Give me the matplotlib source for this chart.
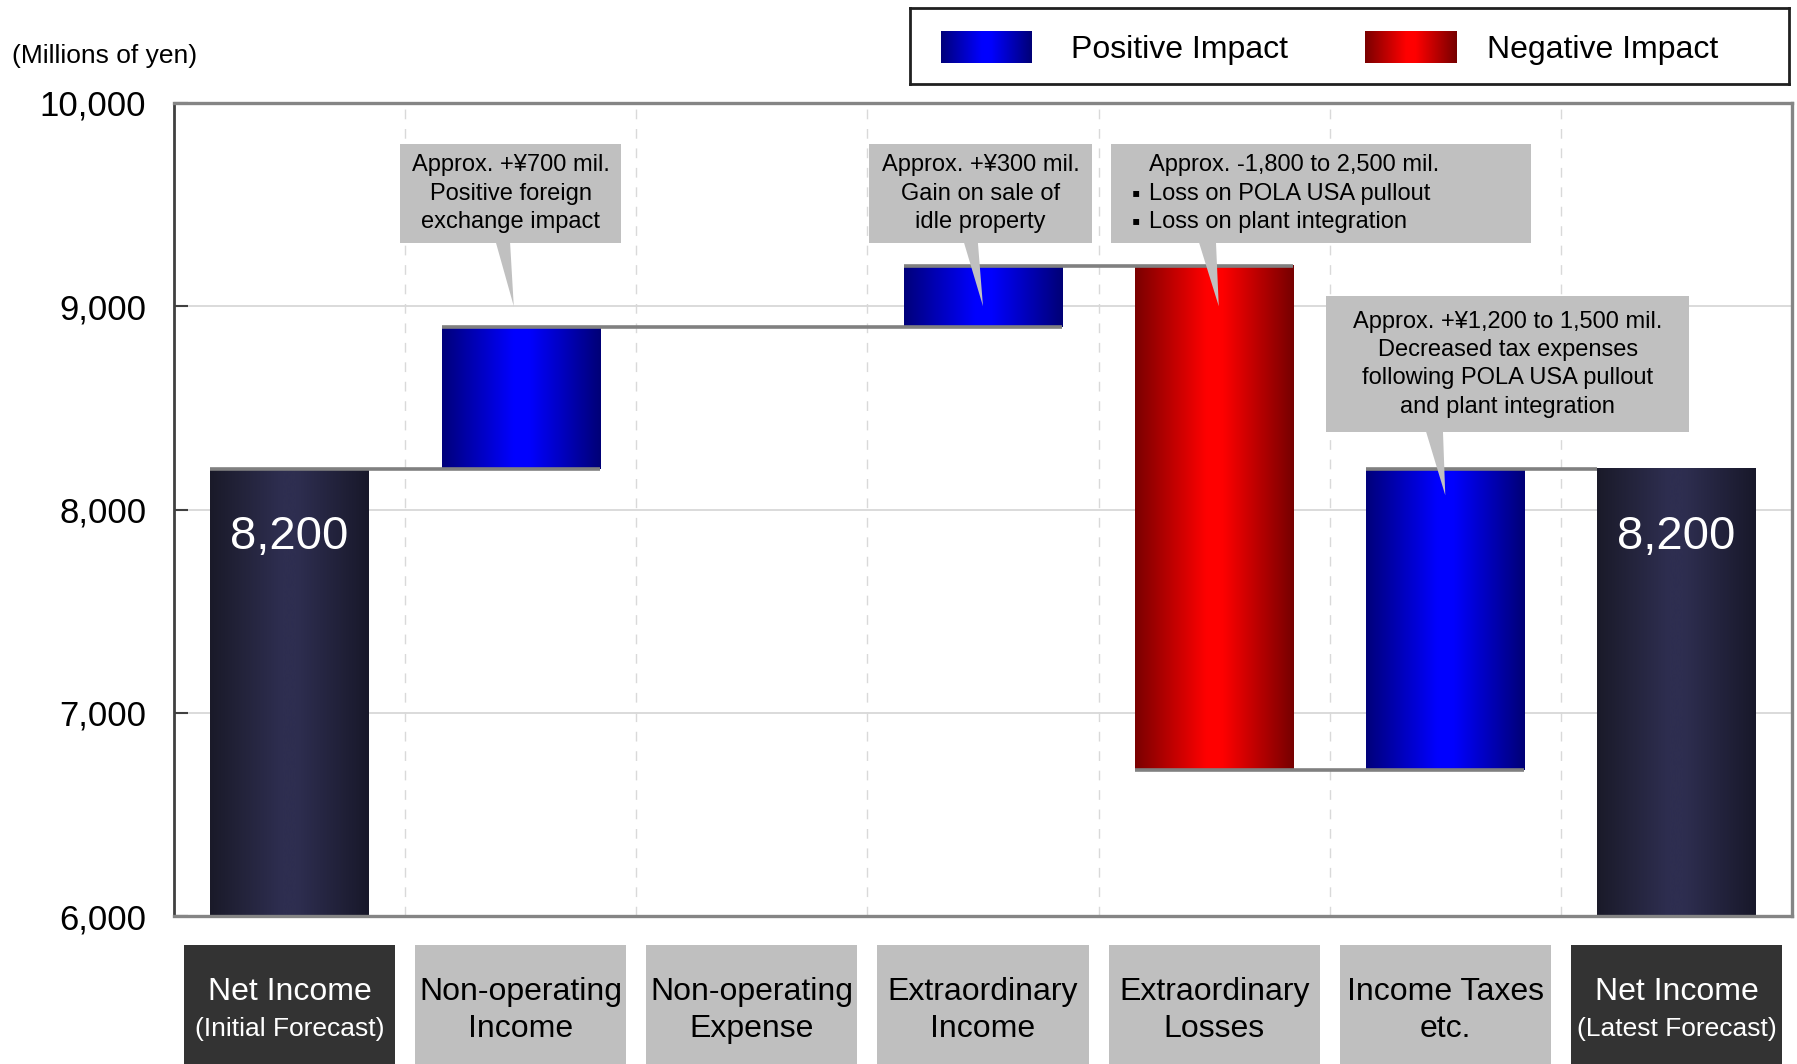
import numpy as np
import matplotlib
matplotlib.use("Agg")
import matplotlib.pyplot as plt
from matplotlib.colors import LinearSegmentedColormap
from matplotlib.patches import Rectangle, Polygon
from matplotlib.transforms import blended_transform_factory

plt.rcParams['font.family'] = ['Liberation Sans', 'DejaVu Sans']

# net income forecast bridge, millions of yen
cat_line1 = ["Net Income", "Non-operating", "Non-operating", "Extraordinary",
             "Extraordinary", "Income Taxes", "Net Income"]
cat_line2 = ["(Initial Forecast)", "Income", "Expense", "Income",
             "Losses", "etc.", "(Latest Forecast)"]
kinds = ["total", "step", "step", "step", "step", "step", "total"]
values = [8200, 700, 0, 300, -2480, 1480, 8200]

y_ticks = [6000, 7000, 8000, 9000, 10000]
y_tick_labels = ["6,000", "7,000", "8,000", "9,000", "10,000"]

callout_texts = [
    "Approx. +¥700 mil.\nPositive foreign\nexchange impact",
    "Approx. +¥300 mil.\nGain on sale of\nidle property",
    "Approx. -1,800 to 2,500 mil.\nLoss on POLA USA pullout\nLoss on plant integration",
    "Approx. +¥1,200 to 1,500 mil.\nDecreased tax expenses\nfollowing POLA USA pullout\nand plant integration",
]

# callout layout: box (x0, x1, y0, y1), pointer base (x0, x1), tip (x, y), bulleted
callout_layout = [
    dict(box=(0.478, 1.434, 9311, 9798), base=(0.893, 0.954), tip=(0.97, 9000), bullets=False),
    dict(box=(2.507, 3.472, 9311, 9798), base=(2.918, 2.978), tip=(3.0, 9000), bullets=False),
    dict(box=(3.554, 5.371, 9311, 9798), base=(3.935, 4.008), tip=(4.02, 9000), bullets=True),
    dict(box=(4.484, 6.055, 8381, 9050), base=(4.917, 4.990), tip=(5.0, 8070), bullets=False),
]

W, H = 1797, 1064
BAR_W = 0.685
CALLOUT_GRAY = "#c0c0c0"
CALLOUT_LS = 1.37


def shade(edge_l, mid, edge_r, name):
    return LinearSegmentedColormap.from_list(
        name, [(0.0, edge_l), (0.45, mid), (0.55, mid), (1.0, edge_r)])


cmap_pos = shade("#00007a", "#0000ff", "#000076", "pos")
cmap_neg = shade("#7a0000", "#ff0000", "#760000", "neg")
cmap_tot = shade("#1a1a29", "#2e2e50", "#18182a", "tot")
grad = np.linspace(0, 1, 256).reshape(1, -1)


def gradient_rect(a, x0, x1, y0, y1, cmap, z):
    a.imshow(grad, cmap=cmap, extent=[x0, x1, y0, y1], aspect="auto",
             interpolation="bicubic", zorder=z)


fig = plt.figure(figsize=(W / 100, H / 100), dpi=100)
ax = fig.add_axes([174 / W, 1 - 916 / H, 1618 / W, 813 / H])

# grid
for y in y_ticks[1:-1]:
    ax.axhline(y, color="#d4d4d4", lw=1.2, zorder=0)
for x in np.arange(0.5, len(values) - 1, 1.0):
    ax.axvline(x, color="#d9d9d9", lw=1.0, ls=(0, (7, 7)), zorder=0)

# bars (totals only need painting down to the bottom of the value axis)
y_floor = y_ticks[0]
running = 0
spans = []
for i, (v, k) in enumerate(zip(values, kinds)):
    if k == "total":
        lo, hi = y_floor, v
        running = v
        cmap = cmap_tot
    else:
        start = running
        running = start + v
        lo, hi = min(start, running), max(start, running)
        cmap = cmap_pos if v >= 0 else cmap_neg
    spans.append((lo, hi, running - v if k == "step" else v))
    if hi > lo:
        gradient_rect(ax, i - BAR_W / 2, i + BAR_W / 2, lo, hi, cmap, 2)
    if k == "total":
        ax.annotate(f"{v:,}", xy=(i, v), xytext=(0, -49), textcoords="offset points",
                    ha="center", va="center", color="white", fontsize=34, zorder=6)

# connector lines
prev = 0
for i in range(1, len(values)):
    if kinds[i] == "step" and values[i] == 0:
        continue
    level = spans[i][2] if kinds[i] == "step" else values[i]
    x_to = i + BAR_W / 2 if kinds[i] == "step" else i - BAR_W / 2
    ax.plot([prev - BAR_W / 2, x_to], [level, level], color="#808080", lw=2.6,
            solid_capstyle="butt", zorder=4)
    prev = i

# callouts
for txt, lay in zip(callout_texts, callout_layout):
    bx0, bx1, by0, by1 = lay["box"]
    ax.add_patch(Rectangle((bx0, by0), bx1 - bx0, by1 - by0, facecolor=CALLOUT_GRAY,
                           edgecolor="none", zorder=7))
    ax.add_patch(Polygon([(lay["base"][0], by0 + 1), (lay["base"][1], by0 + 1), lay["tip"]],
                         closed=True, facecolor=CALLOUT_GRAY, edgecolor="none", zorder=7))
    cy = (by0 + by1) / 2
    if lay["bullets"]:
        ax.text(bx0 + 0.166, cy, txt, ha="left", va="center", fontsize=17,
                linespacing=CALLOUT_LS, zorder=8)
        ax.text(bx0 + 0.09, cy, "\n▪\n▪", ha="left", va="center", fontsize=17,
                linespacing=CALLOUT_LS, zorder=8)
    else:
        ax.text((bx0 + bx1) / 2, cy, txt, ha="center", va="center", fontsize=17,
                linespacing=CALLOUT_LS, zorder=8)

ax.set_xticks([])
ax.set_yticks(y_ticks)
ax.set_yticklabels(y_tick_labels)
ax.tick_params(axis="y", direction="in", length=10, width=1.5, color="#404040",
               labelsize=25, pad=20)
ax.spines["left"].set_color("#404040")
ax.spines["left"].set_linewidth(2)
for s in ("top", "right", "bottom"):
    ax.spines[s].set_color("#858585")
    ax.spines[s].set_linewidth(2.4)

ax.set_xlim(-0.5, len(values) - 0.5)
ax.set_ylim(y_ticks[0], y_ticks[-1])

fig.text(12 / W, 1 - 56 / H, "(Millions of yen)", ha="left", va="center", fontsize=19)

# category boxes under the axis
trans = blended_transform_factory(ax.transData, fig.transFigure)
for i, (l1, l2, k) in enumerate(zip(cat_line1, cat_line2, kinds)):
    fc = "#333333" if k == "total" else "#bfbfbf"
    tc = "white" if k == "total" else "black"
    fig.patches.append(Rectangle((i - 0.4565, -0.01), 0.913, 0.1218, transform=trans,
                                 facecolor=fc, edgecolor="none", figure=fig))
    fig.text(i, 0.068, l1, transform=trans, ha="center", va="center",
             fontsize=23, color=tc)
    fig.text(i, 0.0325, l2, transform=trans, ha="center", va="center",
             fontsize=19 if k == "total" else 23, color=tc)

# legend
lax = fig.add_axes([910 / W, 1 - 84 / H, 879 / W, 76 / H])
gradient_rect(lax, 941, 1032, 31, 63, cmap_pos, 2)
gradient_rect(lax, 1365, 1457, 31, 63, cmap_neg, 2)
lax.text(1071, 50, "Positive Impact", ha="left", va="center", fontsize=23)
lax.text(1487, 50, "Negative Impact", ha="left", va="center", fontsize=23)
lax.set_xlim(910, 1789)
lax.set_ylim(84, 8)
lax.set_xticks([])
lax.set_yticks([])
for s in lax.spines.values():
    s.set_color("#202020")
    s.set_linewidth(2)

fig.savefig("out.png", dpi=100)
